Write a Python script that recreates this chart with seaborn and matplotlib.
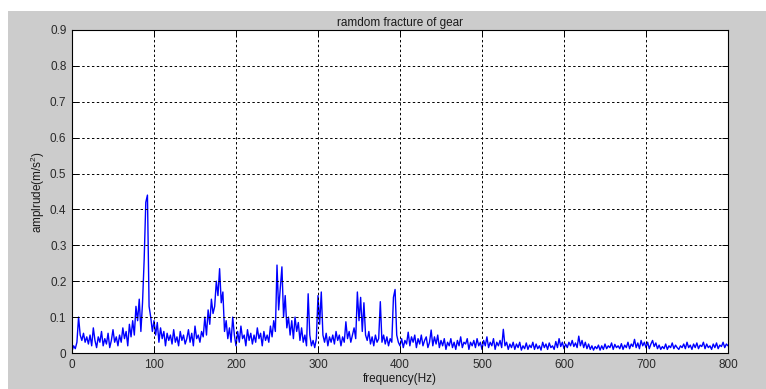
import numpy as np
import pandas as pd
import matplotlib
matplotlib.use("Agg")
import matplotlib.pyplot as plt
from matplotlib.patches import Rectangle
import seaborn as sns

TITLE = "ramdom fracture of gear"
XLABEL = "frequency(Hz)"
YLABEL = r"amplrude(m/s$^{2}$)"
X_TICKS = [0, 100, 200, 300, 400, 500, 600, 700, 800]
Y_TICKS = [0, 0.1, 0.2, 0.3, 0.4, 0.5, 0.6, 0.7, 0.8, 0.9]
Y_TICK_LABELS = ["0", "0.1", "0.2", "0.3", "0.4", "0.5", "0.6", "0.7", "0.8", "0.9"]

F_START, F_STEP = 0, 2  # Hz, spectrum bin spacing

# amplitude per 2 Hz bin, 0 .. 800 Hz
amplitude = [
    0.005, 0.02, 0.012, 0.03, 0.10, 0.05, 0.035, 0.055, 0.03, 0.045,
    0.025, 0.05, 0.02, 0.07, 0.035, 0.015, 0.045, 0.03, 0.06, 0.02,
    0.04, 0.025, 0.055, 0.015, 0.035, 0.065, 0.03, 0.045, 0.02, 0.05,
    0.03, 0.07, 0.04, 0.06, 0.02, 0.08, 0.045, 0.09, 0.05, 0.13,
    0.09, 0.15, 0.06, 0.14, 0.26, 0.42, 0.44, 0.13, 0.10, 0.06,
    0.09, 0.05, 0.085, 0.03, 0.07, 0.04, 0.06, 0.02, 0.055, 0.035,
    0.05, 0.025, 0.065, 0.03, 0.045, 0.02, 0.06, 0.035, 0.05, 0.025,
    0.04, 0.065, 0.03, 0.055, 0.02, 0.075, 0.04, 0.05, 0.03, 0.06,
    0.045, 0.10, 0.05, 0.12, 0.08, 0.15, 0.11, 0.13, 0.20, 0.16,
    0.235, 0.14, 0.17, 0.06, 0.09, 0.04, 0.07, 0.03, 0.10, 0.05,
    0.02, 0.06, 0.03, 0.075, 0.04, 0.05, 0.02, 0.065, 0.035, 0.055,
    0.025, 0.05, 0.03, 0.07, 0.04, 0.055, 0.02, 0.06, 0.035, 0.05,
    0.03, 0.075, 0.045, 0.09, 0.06, 0.245, 0.12, 0.18, 0.24, 0.10,
    0.16, 0.07, 0.10, 0.05, 0.09, 0.04, 0.10, 0.06, 0.085, 0.035,
    0.07, 0.03, 0.05, 0.02, 0.165, 0.05, 0.02, 0.035, 0.015, 0.04,
    0.16, 0.08, 0.17, 0.05, 0.03, 0.055, 0.02, 0.045, 0.03, 0.05,
    0.025, 0.06, 0.035, 0.05, 0.02, 0.045, 0.03, 0.087, 0.04, 0.06,
    0.03, 0.05, 0.07, 0.04, 0.17, 0.09, 0.155, 0.06, 0.14, 0.05,
    0.035, 0.06, 0.025, 0.045, 0.02, 0.05, 0.03, 0.04, 0.143, 0.03,
    0.05, 0.025, 0.045, 0.02, 0.04, 0.03, 0.155, 0.177, 0.05, 0.03,
    0.02, 0.04, 0.015, 0.035, 0.025, 0.058, 0.02, 0.045, 0.03, 0.05,
    0.015, 0.04, 0.025, 0.05, 0.02, 0.035, 0.045, 0.015, 0.03, 0.064,
    0.02, 0.045, 0.025, 0.05, 0.015, 0.035, 0.02, 0.04, 0.01, 0.03,
    0.02, 0.04, 0.015, 0.03, 0.01, 0.035, 0.02, 0.045, 0.015, 0.03,
    0.025, 0.04, 0.01, 0.03, 0.02, 0.035, 0.015, 0.04, 0.02, 0.03,
    0.01, 0.035, 0.02, 0.045, 0.015, 0.03, 0.02, 0.04, 0.01, 0.03,
    0.02, 0.035, 0.015, 0.066, 0.02, 0.03, 0.01, 0.025, 0.015, 0.03,
    0.01, 0.025, 0.015, 0.03, 0.008, 0.02, 0.012, 0.028, 0.01, 0.022,
    0.015, 0.03, 0.01, 0.025, 0.012, 0.02, 0.008, 0.03, 0.015, 0.025,
    0.01, 0.028, 0.015, 0.02, 0.01, 0.032, 0.015, 0.04, 0.018, 0.03,
    0.012, 0.025, 0.015, 0.03, 0.02, 0.035, 0.018, 0.028, 0.015, 0.047,
    0.02, 0.035, 0.015, 0.03, 0.012, 0.025, 0.01, 0.02, 0.008, 0.018,
    0.012, 0.022, 0.008, 0.02, 0.01, 0.025, 0.012, 0.02, 0.015, 0.028,
    0.01, 0.024, 0.015, 0.02, 0.012, 0.026, 0.01, 0.022, 0.015, 0.03,
    0.012, 0.025, 0.018, 0.038, 0.015, 0.028, 0.012, 0.035, 0.02, 0.03,
    0.015, 0.03, 0.012, 0.025, 0.035, 0.018, 0.028, 0.012, 0.022, 0.01,
    0.018, 0.012, 0.025, 0.01, 0.02, 0.015, 0.028, 0.012, 0.022, 0.015,
    0.01, 0.02, 0.015, 0.025, 0.012, 0.03, 0.015, 0.022, 0.01, 0.025,
    0.015, 0.028, 0.012, 0.022, 0.018, 0.03, 0.012, 0.025, 0.015, 0.02,
    0.01, 0.025, 0.015, 0.028, 0.012, 0.022, 0.018, 0.03, 0.015, 0.025,
    0.02,
]

frequency = F_START + F_STEP * np.arange(len(amplitude))
df = pd.DataFrame({"frequency": frequency, "amplitude": amplitude})

sns.set_theme(style="white")
plt.rcParams["font.family"] = ["Liberation Sans", "DejaVu Sans"]
plt.rcParams["mathtext.default"] = "regular"

W, H = 766, 389
fig = plt.figure(figsize=(W / 100, H / 100), dpi=100, facecolor="white")
fig.add_artist(Rectangle((8 / W, 0), 1 - 8 / W, 1 - 11 / H, transform=fig.transFigure,
                         facecolor="#cccccc", edgecolor="none", zorder=-10))

ax = fig.add_axes([72 / W, 1 - 353 / H, (728 - 72) / W, (353 - 30) / H])
ax.set_facecolor("white")

sns.lineplot(data=df, x="frequency", y="amplitude", ax=ax, color="#0000ff",
             linewidth=1.0, estimator=None, sort=False)

ax.set_xlim(0, 800)
ax.set_ylim(0, 0.9)
ax.set_xticks(X_TICKS)
ax.set_xticklabels([str(t) for t in X_TICKS])
ax.set_yticks(Y_TICKS)
ax.set_yticklabels(Y_TICK_LABELS)

ax.grid(True, color="black", linestyle=(0, (2.5, 2.5)), linewidth=0.7)
ax.set_axisbelow(False)
for s in ax.spines.values():
    s.set_visible(True)
    s.set_color("black")
    s.set_linewidth(0.8)

ax.tick_params(axis="both", which="both", direction="in", length=4, width=0.7,
               colors="black", labelcolor="#2a2a2a", labelsize=8.5,
               top=True, right=True, bottom=True, left=True)
ax.tick_params(axis="y", pad=4)
ax.tick_params(axis="x", pad=4)

ax.set_title(TITLE, fontsize=8.5, color="#1a1a1a", pad=3)
ax.set_xlabel(XLABEL, fontsize=8.5, color="#1a1a1a", labelpad=2)
ax.set_ylabel(YLABEL, fontsize=8.5, color="#1a1a1a", labelpad=2)

fig.savefig("out.png", dpi=100, facecolor=fig.get_facecolor())
